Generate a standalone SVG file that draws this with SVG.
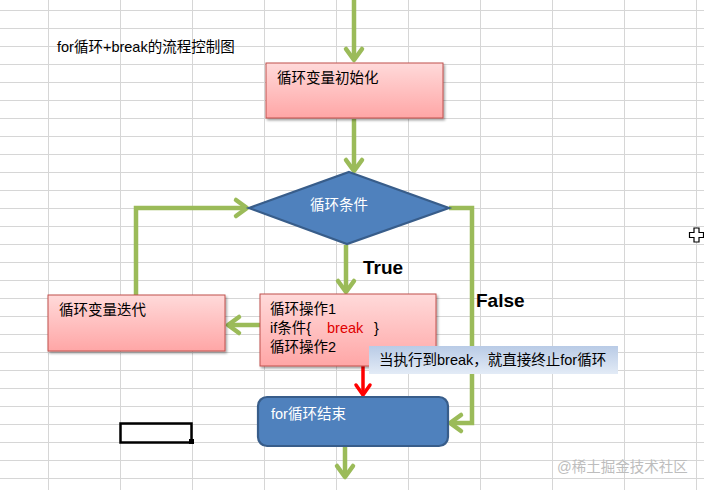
<svg xmlns="http://www.w3.org/2000/svg" width="704" height="490" viewBox="0 0 704 490">
<style>
.t{font-family:"Liberation Sans","Noto Sans CJK SC",sans-serif;font-size:14.5px;fill:#000}
.w{fill:#fff}
.b{font-family:"Liberation Sans","Noto Sans CJK SC",sans-serif;font-weight:bold;font-size:19px;fill:#000}
.g{fill:none;stroke:#9BBB59;stroke-width:4.5}
.pink{fill:url(#pk);stroke:#C0504D;stroke-width:1;filter:url(#sh)}
.blue{fill:#4F81BD;stroke:#385D8A;stroke-width:2.2}
</style>
<defs>
<linearGradient id="pk" x1="0" y1="0" x2="0" y2="1"><stop offset="0" stop-color="#FFDADA"/><stop offset="1" stop-color="#FFA6A6"/></linearGradient>
<linearGradient id="cl" x1="0" y1="0" x2="0" y2="1"><stop offset="0" stop-color="#B9CBE6"/><stop offset="1" stop-color="#E3EBF6"/></linearGradient>
<filter id="sh" x="-10%" y="-10%" width="125%" height="130%"><feDropShadow dx="1.5" dy="2" stdDeviation="1.2" flood-color="#000" flood-opacity="0.35"/></filter>
<marker id="ag" markerUnits="userSpaceOnUse" viewBox="-16 -12 20 24" refX="0" refY="0" markerWidth="20" markerHeight="24" orient="auto"><path d="M-11,-8 L0,0 L-11,8" fill="none" stroke="#9BBB59" stroke-width="4.5" stroke-linecap="round" stroke-linejoin="round"/></marker>
<marker id="ar" markerUnits="userSpaceOnUse" viewBox="-16 -12 20 24" refX="0" refY="0" markerWidth="20" markerHeight="24" orient="auto"><path d="M-10,-7 L0,0 L-10,7" fill="none" stroke="#FF0000" stroke-width="3.5" stroke-linecap="round" stroke-linejoin="round"/></marker>
</defs>
<rect width="704" height="490" fill="#fff"/>
<g id="grid" stroke="#D6D6D6" stroke-width="1" fill="none">
<path d="M48.5,0V490M120.5,0V490M192.5,0V490M264.5,0V490M336.5,0V490M408.5,0V490M480.5,0V490M552.5,0V490M624.5,0V490M696.5,0V490"/>
<path d="M0,10.5H704M0,28.5H704M0,46.5H704M0,64.5H704M0,82.5H704M0,100.5H704M0,118.5H704M0,136.5H704M0,154.5H704M0,172.5H704M0,190.5H704M0,208.5H704M0,226.5H704M0,244.5H704M0,262.5H704M0,280.5H704M0,298.5H704M0,316.5H704M0,334.5H704M0,352.5H704M0,370.5H704M0,388.5H704M0,406.5H704M0,424.5H704M0,442.5H704M0,460.5H704M0,478.5H704"/>
</g>
<text id="title" class="t" x="57" y="52">for循环+break的流程控制图</text>
<g id="cell"><rect x="120.5" y="423.5" width="71" height="19" fill="none" stroke="#000" stroke-width="2.5"/><rect x="189" y="439" width="5" height="5" fill="#000"/></g>
<g id="connectors">
<path class="g" d="M354,0V60" marker-end="url(#ag)"/>
<path class="g" d="M354,119V171" marker-end="url(#ag)"/>
<path class="g" d="M346,245V292" marker-end="url(#ag)"/>
<path class="g" d="M260,325H228" marker-end="url(#ag)"/>
<path class="g" d="M136,295V208H247" marker-end="url(#ag)"/>
<path class="g" d="M449,208H472V423H450" marker-end="url(#ag)"/>
<path class="g" d="M345,447V477" marker-end="url(#ag)"/>
<path d="M363,336V395" fill="none" stroke="#FF0000" stroke-width="3.5" marker-end="url(#ar)"/>
</g>
<g id="init"><rect class="pink" x="266" y="63" width="177" height="55"/><text class="t" x="277" y="83">循环变量初始化</text></g>
<g id="cond"><path class="blue" d="M349,172L449,208L347,244L249,208Z"/><text class="t w" x="310" y="210">循环条件</text></g>
<text id="true" class="b" x="363" y="274">True</text>
<text id="false" class="b" x="476" y="307">False</text>
<g id="iter"><rect class="pink" x="48" y="295" width="177" height="56"/><text class="t" x="59" y="315">循环变量迭代</text></g>
<g id="body"><rect class="pink" x="260" y="294" width="176" height="72"/>
<text class="t" x="270" y="314">循环操作1</text>
<text class="t" x="270" y="333">if条件{<tspan x="327" fill="#E00000">break</tspan><tspan x="374">}</tspan></text>
<text class="t" x="270" y="352">循环操作2</text></g>
<g id="note"><rect x="369" y="346" width="249" height="28" fill="url(#cl)"/><text class="t" x="379" y="365">当执行到break，就直接终止for循环</text></g>
<g id="end"><rect class="blue" x="258" y="397" width="190" height="49" rx="9"/><text class="t w" x="271" y="419">for循环结束</text></g>
<path id="cursor" d="M694,228h5v4.5h4.5v5h-4.5v4.5h-5v-4.5h-4.5v-5h4.5z" fill="#fff" stroke="#000" stroke-width="1.2"/>
<text id="watermark" x="557" y="472" font-family="Liberation Sans,Noto Sans CJK SC,sans-serif" font-size="14.5" fill="#BDBDBD">@稀土掘金技术社区</text>
</svg>
